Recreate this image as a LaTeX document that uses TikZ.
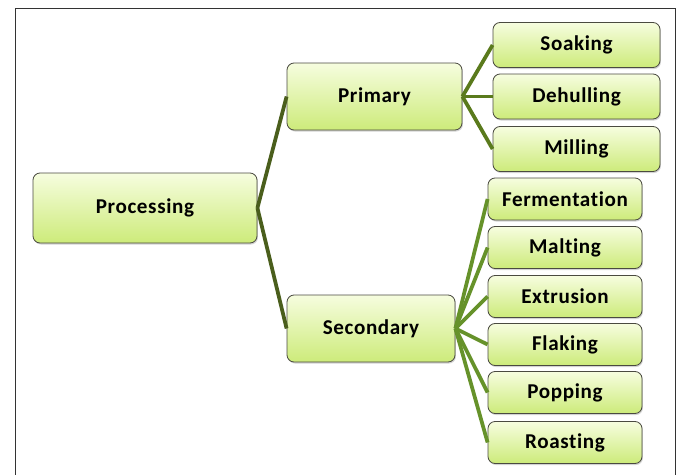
\documentclass[tikz,border=0pt]{standalone}
\usepackage{fontspec}
\setmainfont{Carlito}[LetterSpace=3,Ligatures={NoCommon}]
\usepackage{tikz}
\usepackage{xcolor}
\usetikzlibrary{shadows}

\definecolor{boxtop}{HTML}{F6FDDF}
\definecolor{boxbot}{HTML}{CDEB7A}
\definecolor{boxline}{HTML}{4A4A40}
\definecolor{darkolive}{HTML}{4A5E1C}
\definecolor{midolive}{HTML}{5A7A1C}
\definecolor{leafgreen}{HTML}{66922A}

\begin{document}
\begin{tikzpicture}[x=0.03cm,y=-0.03cm,
  procbox/.style={draw=boxline,line width=0.7pt,rounded corners=6pt,top color=boxtop,bottom color=boxbot,
    drop shadow={opacity=0.35,shadow xshift=0.8pt,shadow yshift=-1.3pt},
    font=\fontsize{18}{21}\selectfont\bfseries,inner sep=0pt},
  link/.style={line width=3.2pt}]
\useasboundingbox (0,0) rectangle (678,474);
\draw[line width=0.8pt,black!80] (15,8) -- (675,8) -- (675,480) (15,480) -- (15,8);

\node [procbox,minimum width=224*0.03cm,minimum height=70*0.03cm] (proc) at (145,208) {Processing};
\node [procbox,minimum width=175*0.03cm,minimum height=67*0.03cm] (prim) at (374.5,96.5) {Primary};
\node [procbox,minimum width=168*0.03cm,minimum height=67*0.03cm] (sec) at (371,328.5) {Secondary};

\draw [link,darkolive] (proc.east) -- (prim.west);
\draw [link,darkolive] (proc.east) -- (sec.west);

% primary steps
\foreach \name/\txt/\ypos in {soak/Soaking/45,dehull/Dehulling/96.5,mill/Milling/149}
{ \node [procbox,minimum width=167*0.03cm,minimum height=45*0.03cm] (\name) at (576.5,\ypos) {\txt};
  \draw [link,midolive] (prim.east) -- (\name.west);}

% secondary steps
\foreach \name/\txt/\ypos in {ferm/Fermentation/199,malt/Malting/247.5,extr/Extrusion/296.5,flak/Flaking/344.5,popp/Popping/392.5,roast/Roasting/442.5}
{ \node [procbox,minimum width=154*0.03cm,minimum height=42*0.03cm] (\name) at (565,\ypos) {\txt};
  \draw [link,leafgreen] (sec.east) -- (\name.west);}
\end{tikzpicture}
\end{document}
